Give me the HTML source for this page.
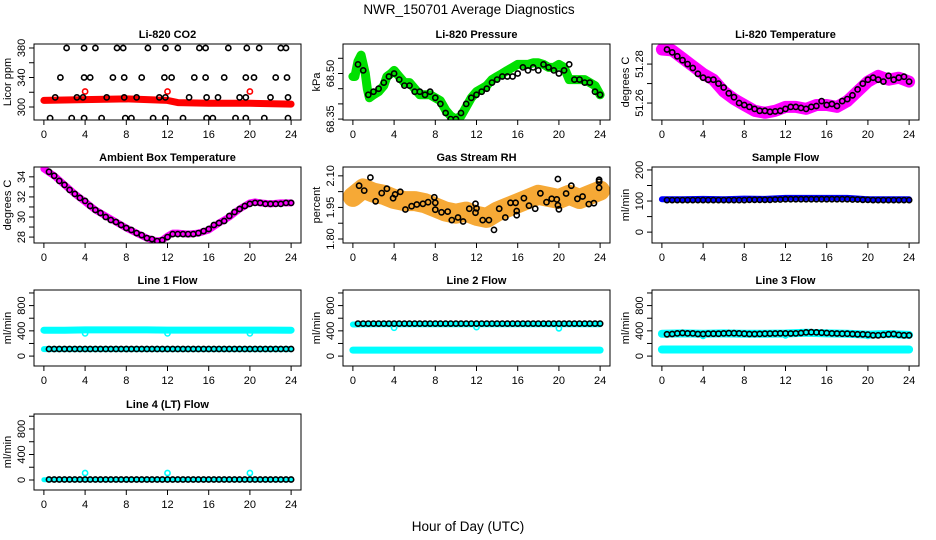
<!DOCTYPE html>
<html><head><meta charset="utf-8">
<style>
html,body{margin:0;padding:0;background:#fff;}
svg{display:block;font-family:"Liberation Sans",Arial,sans-serif;}
</style></head>
<body>
<svg id="chart" width="936" height="540" viewBox="0 0 936 540" xmlns="http://www.w3.org/2000/svg">
<text x="469" y="14" font-size="13.5" text-anchor="middle">NWR_150701  Average Diagnostics</text>
<text x="468" y="531" font-size="13.5" text-anchor="middle">Hour of Day (UTC)</text>
</svg>
<script>
// ---------- data ----------
const halfHours=[0.5,1,1.5,2,2.5,3,3.5,4,4.5,5,5.5,6,6.5,7,7.5,8,8.5,9,9.5,10,10.5,11,11.5,12,12.5,13,13.5,14,14.5,15,15.5,16,16.5,17,17.5,18,18.5,19,19.5,20,20.5,21,21.5,22,22.5,23,23.5,24];
const bandHours=[0,2,4,6,8,10,12,14,16,18,20,22,24];
const xTicks=[0,4,8,12,16,20,24];

const co2BandHours=[0,4,8,12,13,16,20,24];
const co2Band=[309,310,311,309,306,305,305,304];
const co2RedHours=[4,12,20];
const co2Red=[321,321,321];
const co2BlackHours=[2.2,3.9,5.0,7.1,7.7,10.1,11.8,13.0,15.1,15.7,17.9,19.7,20.9,23.0,23.5,
 1.6,3.9,4.5,6.7,7.8,9.5,11.7,12.4,14.6,15.7,17.5,19.6,20.4,22.5,23.6,
 1.1,3.2,3.8,6.1,7.8,9.0,11.2,11.8,14.1,15.8,16.9,19.0,19.6,22.0,23.7,
 0.6,2.7,3.9,5.6,7.9,8.5,10.6,11.8,13.5,15.8,16.4,18.6,19.6,21.4,23.7];
const co2Black=[380,380,380,380,380,380,380,380,380,380,380,380,380,380,380,
 340,340,340,340,340,340,340,340,340,340,340,340,340,340,340,
 313,313,313,313,313,313,313,313,313,313,313,313,313,313,313,
 285,285,285,285,285,285,285,285,285,285,285,285,285,285,285];

const presBandHours=[0,0.2,0.5,0.8,1.2,1.4,1.6,2,2.5,3,3.3,3.7,4,4.5,5,5.5,6,6.5,7,7.5,8,8.5,9,9.5,10,10.5,11,11.5,12,12.5,13,13.5,14,14.5,15,15.5,16,16.5,17,17.5,18,18.5,19,19.5,20,20.5,21,21.5,22,22.5,23,23.5,24];
const presBand=[68.49,68.49,68.54,68.56,68.50,68.45,68.42,68.43,68.44,68.46,68.49,68.50,68.51,68.49,68.47,68.47,68.45,68.43,68.43,68.43,68.42,68.41,68.38,68.36,68.35,68.36,68.39,68.42,68.44,68.45,68.46,68.48,68.49,68.50,68.51,68.52,68.53,68.53,68.53,68.535,68.535,68.53,68.52,68.52,68.53,68.52,68.48,68.48,68.48,68.48,68.47,68.46,68.43];
const presBlack=[68.53,68.51,68.43,68.44,68.45,68.47,68.49,68.50,68.48,68.46,68.46,68.44,68.44,68.43,68.44,68.42,68.40,68.37,68.35,68.35,68.37,68.40,68.42,68.43,68.44,68.45,68.47,68.48,68.49,68.49,68.49,68.50,68.52,68.51,68.52,68.51,68.53,68.52,68.51,68.50,68.51,68.53,68.48,68.48,68.47,68.47,68.44,68.43];

const tempBandHours=[0,1,2,3,4,5,6,7,8,9,10,11,12,13,14,15,16,17,18,19,20,21,22,23,24];
const tempBand=[51.2875,51.2870,51.283,51.279,51.275,51.272,51.266,51.262,51.259,51.256,51.255,51.256,51.258,51.258,51.257,51.259,51.259,51.258,51.261,51.266,51.271,51.274,51.272,51.273,51.271];
const tempBlack=[51.2875,51.286,51.284,51.282,51.280,51.278,51.275,51.273,51.272,51.272,51.270,51.268,51.265,51.263,51.260,51.259,51.258,51.257,51.256,51.256,51.2555,51.2557,51.256,51.257,51.258,51.258,51.2575,51.257,51.258,51.2585,51.261,51.259,51.2595,51.2585,51.261,51.262,51.264,51.267,51.270,51.272,51.273,51.272,51.271,51.274,51.272,51.273,51.2735,51.271];

const ambBandHours=[0,1,2,3,4,5,6,7,8,9,10,11,11.5,12,12.5,13,14,15,16,17,18,19,20,20.5,21,22,23,24];
const ambBand=[34.8,34.1,33.2,32.3,31.5,30.7,30.1,29.5,28.9,28.4,27.9,27.6,27.7,28.1,28.4,28.4,28.3,28.4,28.7,29.4,30.0,30.8,31.4,31.5,31.4,31.3,31.4,31.4];
const ambBlack=[34.5,34.1,33.6,33.2,32.7,32.3,31.9,31.6,31.1,30.7,30.4,30.0,29.7,29.5,29.2,28.9,28.7,28.4,28.2,27.9,27.8,27.6,27.7,28.0,28.3,28.3,28.3,28.3,28.3,28.4,28.6,28.8,29.2,29.4,29.6,30.1,30.5,30.8,31.1,31.3,31.4,31.4,31.3,31.3,31.3,31.3,31.4,31.4];

const rhBandHours=[0,1,2,3,4,5,6,7,8,9,10,11,12,13,14,15,16,17,18,19,20,21,22,23,24];
const rhBand=[2.00,2.04,2.02,2.01,1.99,1.98,1.98,1.97,1.95,1.93,1.92,1.93,1.91,1.90,1.93,1.95,1.97,1.99,2.01,2.00,1.99,2.01,1.99,2.01,2.03];
const rhBlackHours=[0.6,1.1,1.7,2.2,2.8,3.3,3.9,4.1,4.6,5.1,5.7,6.2,6.8,7.3,7.9,8.0,8.0,8.6,9.2,9.6,10.2,10.7,11.3,11.9,11.9,12.0,12.6,13.2,13.7,14.2,14.8,15.3,15.8,15.9,15.9,16.6,17.1,17.7,18.2,18.8,19.3,19.8,19.9,20.0,19.9,20.7,21.2,21.8,22.3,22.9,23.4,23.9,23.9,23.9];
const rhBlack=[2.053,2.030,2.092,1.979,2.018,2.039,1.994,2.012,2.024,1.940,1.956,1.964,1.967,1.975,1.998,1.972,1.939,1.927,1.930,1.890,1.902,1.883,1.944,1.967,1.925,1.946,1.890,1.890,1.843,1.944,1.902,1.972,1.972,1.933,1.913,1.994,1.958,1.944,2.017,1.975,1.991,1.988,1.960,1.941,2.085,2.016,2.053,1.991,2.002,1.966,1.970,2.043,2.081,2.072];

const sampleBand=[106,106,107,106,108,107,110,110,110,110,106,106,106];
const sampleBlack=[103,103,103,103,103,103,103,103,103,103,103,103,103,103,103,103,104,104,104,104,104,105,105,106,106,106,106,106,106,106,106,106,106,106,106,106,105,105,104,104,103,103,103,103,103,103,103,103];

const line1BandHi=[410,410,415,415,415,415,412,412,412,412,412,412,410];
const line1BandLo=[110,110,110,110,110,110,110,110,110,110,110,110,110];
const line1DipHours=[4,12,20];
const line1Dip=[360,360,360];
const line1Black=[112,112,112,112,112,112,112,112,112,112,112,112,112,112,112,112,112,112,112,112,112,112,112,112,112,112,112,112,112,112,112,112,112,112,112,112,112,112,112,112,112,112,112,112,112,112,112,112];

const line2BandHi=[500,505,505,505,505,505,505,505,505,505,505,505,505];
const line2BandLo=[95,95,95,95,95,95,95,95,95,95,95,95,95];
const line2DipHours=[4,12,20];
const line2Dip=[450,460,440];
const line2Black=[515,515,515,515,515,515,515,515,515,515,515,515,515,515,515,515,515,515,515,515,515,515,515,515,515,515,515,515,515,515,515,515,515,515,515,515,515,515,515,515,515,515,515,515,515,515,515,515];

const line3BandHi=[355,360,355,360,355,355,358,370,360,355,340,350,335];
const line3BandLo=[105,105,105,105,105,105,105,105,105,105,105,105,105];
const line3DipHours=[4,12,20];
const line3Dip=[320,330,320];
const line3Black=[345,350,360,365,360,360,350,350,355,355,355,360,362,362,360,355,350,350,352,355,356,358,360,360,358,360,365,375,378,375,370,365,360,358,355,355,350,345,345,340,330,330,335,345,350,335,330,330];

const line4Band=[5,5,5,5,5,5,5,5,5,5,5,5,5];
const line4SpikeHours=[4,12,20];
const line4Spike=[110,110,110];
const line4Black=[8,8,8,8,8,8,8,8,8,8,8,8,8,8,8,8,8,8,8,8,8,8,8,8,8,8,8,8,8,8,8,8,8,8,8,8,8,8,8,8,8,8,8,8,8,8,8,8];

// ---------- drawing ----------
const NS='http://www.w3.org/2000/svg';
const svg=document.getElementById('chart');
const colL=[34,343,652], rowT=[44,167,290,414], PW=267, PH=76;
const XMIN=-0.96, XMAX=24.96;
function mk(tag,attrs,parent){const e=document.createElementNS(NS,tag);for(const k in attrs)e.setAttribute(k,attrs[k]);(parent||svg).appendChild(e);return e;}

function panel(cfg){
  const L=colL[cfg.col], T=rowT[cfg.row];
  const g=mk('g',{});
  
  
  const sx=v=>L+(v-XMIN)/(XMAX-XMIN)*PW;
  const sy=v=>T+PH-(v-cfg.ylim[0])/(cfg.ylim[1]-cfg.ylim[0])*PH;
  const clip='clip-'+cfg.name;
  const cp=mk('clipPath',{id:clip},g);mk('rect',{x:L,y:T,width:PW,height:PH},cp);
  const data=mk('g',{'clip-path':'url(#'+clip+')'},g);
  cfg.bands.forEach(b=>{
    const d=b.x.map((h,i)=>(i?'L':'M')+sx(h).toFixed(1)+','+sy(b.y[i]).toFixed(1)).join('');
    const p=mk('path',{d:d,fill:'none',stroke:b.color,'stroke-width':b.w,'stroke-linejoin':'round','stroke-linecap':'round',opacity:b.op||1},data);
    
    
  });
  cfg.points.forEach(s=>{
    s.x.forEach((h,i)=>{
      const c=mk('circle',{cx:sx(h).toFixed(1),cy:sy(s.y[i]).toFixed(1),r:s.r||2.6,fill:'none',stroke:s.color,'stroke-width':1.6},data);
      
      
    });
  });
  mk('rect',{x:L,y:T,width:PW,height:PH,fill:'none',stroke:'#000','stroke-width':1},g);
  // x axis
  xTicks.forEach(t=>{
    mk('line',{x1:sx(t),x2:sx(t),y1:T+PH,y2:T+PH+5,stroke:'#000'},g);
    const tx=mk('text',{x:sx(t),y:T+PH+18,'font-size':11,'text-anchor':'middle'},g);
    tx.textContent=t;
    
    
  });
  // y axis
  cfg.yticks.forEach(t=>{
    mk('line',{x1:L-5,x2:L,y1:sy(t),y2:sy(t),stroke:'#000'},g);
  });
  cfg.ylabels.forEach(t=>{
    const y=sy(t);
    const tx=mk('text',{x:L-9,y:y,'font-size':11,'text-anchor':'middle',transform:'rotate(-90 '+(L-9)+' '+y+')'},g);
    tx.textContent=t.toFixed(cfg.dec);
    
    
  });
  const yt=mk('text',{x:L-23,y:T+PH/2,'font-size':11,'text-anchor':'middle',transform:'rotate(-90 '+(L-23)+' '+(T+PH/2)+')'},g);
  yt.textContent=cfg.ytitle;
  
  
  const ti=mk('text',{x:L+PW/2,y:T-6,'font-size':11,'font-weight':'bold','text-anchor':'middle'},g);
  ti.textContent=cfg.title;
  
  
}

const flowTicks=[0,200,400,600,800,1000], flowLabels=[0,400,800];
panel({name:'co2-panel',col:0,row:0,title:'Li-820 CO2',ytitle:'Licor ppm',ylim:[282.4,385.4],yticks:[300,320,340,360,380],ylabels:[300,340,380],dec:0,
 bands:[{name:'co2-band',x:co2BandHours,y:co2Band,color:'#ff0000',w:7}],
 points:[{name:'co2-red-point',x:co2RedHours,y:co2Red,color:'#ff0000'},{name:'co2-point',x:co2BlackHours,y:co2Black,color:'#000'}]});
panel({name:'pressure-panel',col:1,row:0,title:'Li-820 Pressure',ytitle:'kPa',ylim:[68.347,68.597],yticks:[68.35,68.40,68.45,68.50,68.55],ylabels:[68.35,68.50],dec:2,
 bands:[{name:'pressure-band',x:presBandHours,y:presBand,color:'#00e000',w:9}],
 points:[{name:'pressure-point',x:halfHours,y:presBlack,color:'#000'}]});
panel({name:'temperature-panel',col:2,row:0,title:'Li-820 Temperature',ytitle:'degrees C',ylim:[51.2513,51.2903],yticks:[51.26,51.27,51.28],ylabels:[51.26,51.28],dec:2,
 bands:[{name:'temperature-band',x:tempBandHours,y:tempBand,color:'#ff00ff',w:12}],
 points:[{name:'temperature-point',x:halfHours,y:tempBlack,color:'#000'}]});
panel({name:'ambient-panel',col:0,row:1,title:'Ambient Box Temperature',ytitle:'degrees C',ylim:[27.41,34.98],yticks:[28,29,30,31,32,33,34],ylabels:[28,30,32,34],dec:0,
 bands:[{name:'ambient-band',x:ambBandHours,y:ambBand,color:'#ff00ff',w:7}],
 points:[{name:'ambient-point',x:halfHours,y:ambBlack,color:'#000'}]});
panel({name:'rh-panel',col:1,row:1,title:'Gas Stream RH',ytitle:'percent',ylim:[1.781,2.142],yticks:[1.80,1.875,1.95,2.025,2.10],ylabels:[1.80,1.95,2.10],dec:2,
 bands:[{name:'rh-band',x:rhBandHours,y:rhBand,color:'#f5a020',w:20,op:0.9}],
 points:[{name:'rh-point',x:rhBlackHours,y:rhBlack,color:'#000'}]});
panel({name:'sample-flow-panel',col:2,row:1,title:'Sample Flow',ytitle:'ml/min',ylim:[-35,209.5],yticks:[0,50,100,150,200],ylabels:[0,100,200],dec:0,
 bands:[{name:'sample-band',x:bandHours,y:sampleBand,color:'#0000ff',w:6}],
 points:[{name:'sample-point',x:halfHours,y:sampleBlack,color:'#000'}]});
panel({name:'line1-panel',col:0,row:2,title:'Line 1 Flow',ytitle:'ml/min',ylim:[-157,1047],yticks:flowTicks,ylabels:flowLabels,dec:0,
 bands:[{name:'line1-band-high',x:bandHours,y:line1BandHi,color:'#00ffff',w:7},{name:'line1-band-low',x:bandHours,y:line1BandLo,color:'#00ffff',w:6}],
 points:[{name:'line1-dip',x:line1DipHours,y:line1Dip,color:'#00ffff'},{name:'line1-point',x:halfHours,y:line1Black,color:'#000'}]});
panel({name:'line2-panel',col:1,row:2,title:'Line 2 Flow',ytitle:'ml/min',ylim:[-157,1047],yticks:flowTicks,ylabels:flowLabels,dec:0,
 bands:[{name:'line2-band-high',x:bandHours,y:line2BandHi,color:'#00ffff',w:6},{name:'line2-band-low',x:bandHours,y:line2BandLo,color:'#00ffff',w:7}],
 points:[{name:'line2-dip',x:line2DipHours,y:line2Dip,color:'#00ffff'},{name:'line2-point',x:halfHours,y:line2Black,color:'#000'}]});
panel({name:'line3-panel',col:2,row:2,title:'Line 3 Flow',ytitle:'ml/min',ylim:[-157,1047],yticks:flowTicks,ylabels:flowLabels,dec:0,
 bands:[{name:'line3-band-high',x:bandHours,y:line3BandHi,color:'#00ffff',w:8},{name:'line3-band-low',x:bandHours,y:line3BandLo,color:'#00ffff',w:8}],
 points:[{name:'line3-dip',x:line3DipHours,y:line3Dip,color:'#00ffff'},{name:'line3-point',x:halfHours,y:line3Black,color:'#000'}]});
panel({name:'line4-panel',col:0,row:3,title:'Line 4 (LT) Flow',ytitle:'ml/min',ylim:[-157,1035],yticks:flowTicks,ylabels:flowLabels,dec:0,
 bands:[{name:'line4-band',x:bandHours,y:line4Band,color:'#00ffff',w:5}],
 points:[{name:'line4-spike',x:line4SpikeHours,y:line4Spike,color:'#00ffff'},{name:'line4-point',x:halfHours,y:line4Black,color:'#000'}]});
</script>
</body></html>
